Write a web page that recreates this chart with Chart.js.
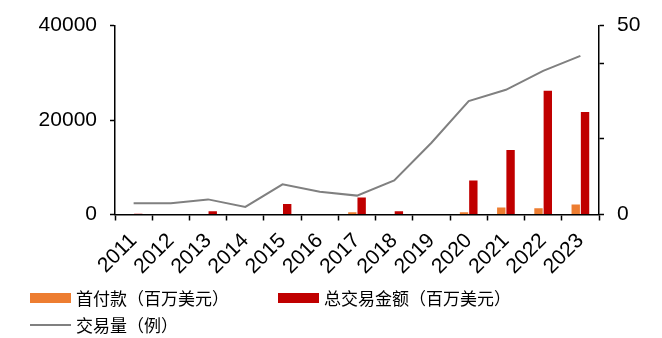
<!DOCTYPE html>
<html>
<head>
<meta charset="utf-8">
<script src="https://cdn.jsdelivr.net/npm/chart.js@4/dist/chart.umd.min.js"></script>
<style>
  body { margin: 0; background: #fff; }
  #wrap { position: relative; width: 662px; height: 338px; }
  .legend { position: absolute; font-family: "Noto Sans CJK SC", "Liberation Sans", sans-serif; font-size: 17px; color: #000; display: flex; align-items: center; white-space: nowrap; }
  .legend .box { display: inline-block; width: 41px; height: 10px; margin-right: 5px; }
  .legend .ln { display: inline-block; width: 41px; height: 2px; background: #808080; margin-right: 5px; }
</style>
</head>
<body>
<div id="wrap">
  <canvas id="deals" width="662" height="338"></canvas>
  <div class="legend" style="left:30px; top:285px;"><span class="box" style="background:#ED7D31"></span>首付款（百万美元）</div>
  <div class="legend" style="left:278px; top:285px;"><span class="box" style="background:#C00000"></span>总交易金额（百万美元）</div>
  <div class="legend" style="left:30px; top:312px;"><span class="ln"></span>交易量（例）</div>
</div>
<script>
const years = ['2011', '2012', '2013', '2014', '2015', '2016', '2017', '2018', '2019', '2020', '2021', '2022', '2023'];
const downPayment = [0, 0, 0, 0, 0, 0, 500, 0, 0, 500, 1500, 1300, 2100];
const totalValue = [150, 0, 700, 0, 2200, 100, 3600, 700, 0, 7200, 13650, 26200, 21700];
const dealCount = [3, 3, 4, 2, 8, 6, 5, 9, 19, 30, 33, 38, 42];

const tickFont = { family: '"Liberation Sans", Arial, sans-serif', size: 21 };

const ctx = document.getElementById('deals');

const dealsChart = new Chart(ctx, {
    type: 'bar',
    data: {
        labels: years,
        datasets: [
            {
                type: 'line',
                label: '交易量（例）',
                data: dealCount,
                borderColor: '#808080',
                borderWidth: 2,
                pointRadius: 0,
                tension: 0,
                yAxisID: 'y1',
                order: 0,
            },
            {
                label: '首付款（百万美元）',
                data: downPayment,
                backgroundColor: '#ED7D31',
                categoryPercentage: 0.5,
                barPercentage: 0.9,
                yAxisID: 'y',
                order: 1,
            },
            {
                label: '总交易金额（百万美元）',
                data: totalValue,
                backgroundColor: '#C00000',
                categoryPercentage: 0.5,
                barPercentage: 0.9,
                yAxisID: 'y',
                order: 1,
            },
        ],
    },
    options: {
        responsive: false,
        animation: false,
        layout: {
            padding: { top: 23, left: 0, right: 0, bottom: 0 },
        },
        plugins: {
            legend: { display: false },
            tooltip: { enabled: false },
        },
        scales: {
            x: {
                offset: true,
                grid: {
                    offset: true,
                    drawOnChartArea: false,
                    color: '#000',
                    tickLength: 6,
                    tickWidth: 1.5,
                },
                border: { color: '#000', width: 1.5 },
                ticks: {
                    color: '#000',
                    font: tickFont,
                    autoSkip: false,
                    minRotation: 45,
                    maxRotation: 45,
                    padding: 8,
                },
                afterFit: (scale) => { scale.height = 123.5; },
            },
            y: {
                position: 'left',
                min: 0,
                max: 40000,
                grid: {
                    drawOnChartArea: false,
                    color: '#000',
                    tickLength: 5,
                    tickWidth: 1.5,
                },
                border: { color: '#000', width: 1.5 },
                ticks: {
                    stepSize: 20000,
                    color: '#000',
                    font: tickFont,
                    padding: 13,
                    callback: (v) => String(v),
                },
                afterFit: (scale) => { scale.width = 115; },
            },
            y1: {
                position: 'right',
                min: 0,
                max: 50,
                grid: {
                    drawOnChartArea: false,
                    color: '#000',
                    tickLength: 5,
                    tickWidth: 1.5,
                },
                border: { color: '#000', width: 1.5 },
                afterBuildTicks: (scale) => {
                    scale.ticks = [0, 20, 40, 50].map(v => ({ value: v }));
                },
                ticks: {
                    color: '#000',
                    font: tickFont,
                    padding: 13,
                    callback: (v) => (v === 0 || v === 50) ? String(v) : '',
                },
                afterFit: (scale) => { scale.width = 63; },
            },
        },
    },
});
</script>
</body>
</html>
